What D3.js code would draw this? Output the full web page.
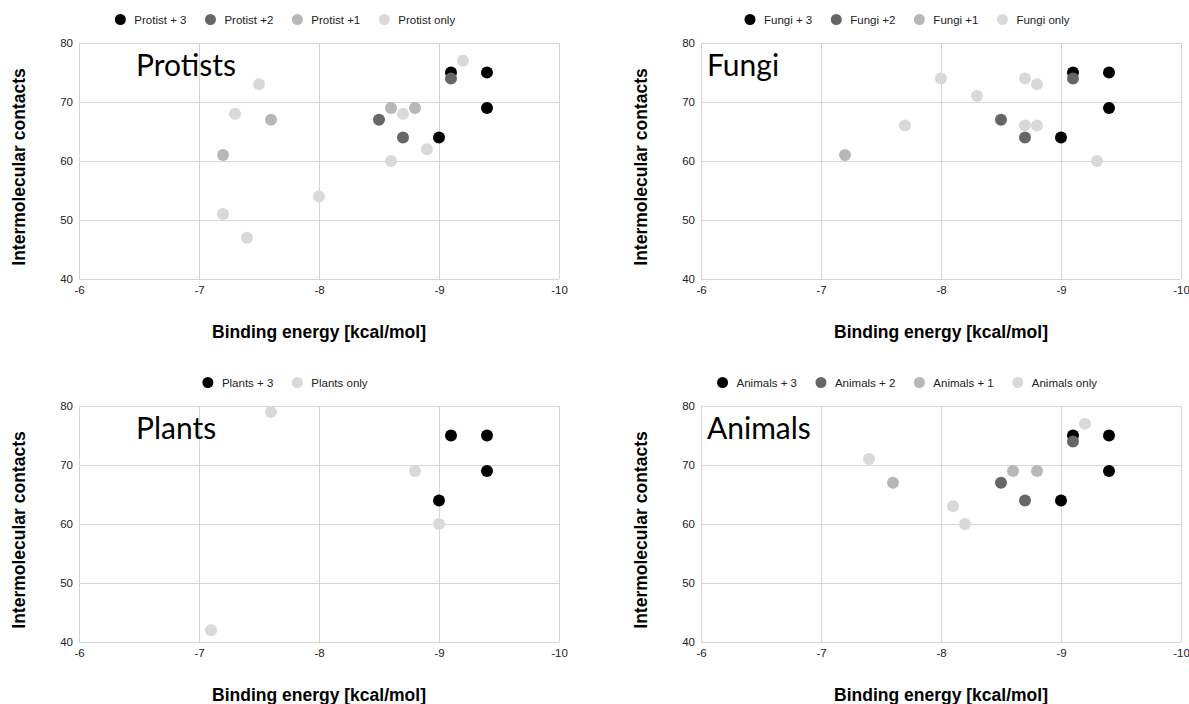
<!DOCTYPE html>
<html>
<head>
<meta charset="utf-8">
<script src="https://cdn.jsdelivr.net/npm/d3@7"></script>
<style>
  body { margin: 0; background: #fff; }
  svg { display: block; }
</style>
</head>
<body>
<script>
// tick values shared by the four panels
var xTicks = [-6, -7, -8, -9, -10];
var yTicks = [40, 50, 60, 70, 80];

// [binding energy, intermolecular contacts]
var protist3 = [[-9.1, 75], [-9.4, 75], [-9.4, 69], [-9.0, 64]];
var protist2 = [[-9.1, 74], [-8.5, 67], [-8.7, 64]];
var protist1 = [[-8.6, 69], [-8.8, 69], [-7.6, 67], [-7.2, 61]];
var protistOnly = [[-9.2, 77], [-7.5, 73], [-7.3, 68], [-8.7, 68], [-8.9, 62], [-8.6, 60], [-8.0, 54], [-7.2, 51], [-7.4, 47]];

var fungi3 = [[-9.1, 75], [-9.4, 75], [-9.4, 69], [-9.0, 64]];
var fungi2 = [[-9.1, 74], [-8.5, 67], [-8.7, 64]];
var fungi1 = [[-7.2, 61]];
var fungiOnly = [[-8.0, 74], [-8.7, 74], [-8.8, 73], [-8.3, 71], [-7.7, 66], [-8.7, 66], [-8.8, 66], [-9.3, 60]];

var plants3 = [[-9.1, 75], [-9.4, 75], [-9.4, 69], [-9.0, 64]];
var plantsOnly = [[-7.6, 79], [-8.8, 69], [-9.0, 60], [-7.1, 42]];

var animals3 = [[-9.1, 75], [-9.4, 75], [-9.4, 69], [-9.0, 64]];
var animals2 = [[-9.1, 74], [-8.5, 67], [-8.7, 64]];
var animals1 = [[-8.6, 69], [-8.8, 69], [-7.6, 67]];
var animalsOnly = [[-9.2, 77], [-7.4, 71], [-8.1, 63], [-8.2, 60]];

var protistLabels = ["Protist + 3", "Protist +2", "Protist +1", "Protist only"];
var fungiLabels = ["Fungi + 3", "Fungi +2", "Fungi +1", "Fungi only"];
var plantsLabels = ["Plants + 3", "Plants only"];
var animalsLabels = ["Animals + 3", "Animals + 2", "Animals + 1", "Animals only"];

var grays = { three: "#000000", two: "#666666", one: "#b7b7b7", only: "#d9d9d9" };

var panels = [
    { title: "Protists", labels: protistLabels, series: [protist3, protist2, protist1, protistOnly],
      colors: [grays.three, grays.two, grays.one, grays.only], left: 79, top: 43, titleDx: 57 },
    { title: "Fungi", labels: fungiLabels, series: [fungi3, fungi2, fungi1, fungiOnly],
      colors: [grays.three, grays.two, grays.one, grays.only], left: 701, top: 43, titleDx: 6 },
    { title: "Plants", labels: plantsLabels, series: [plants3, plantsOnly],
      colors: [grays.three, grays.only], left: 79, top: 406, titleDx: 57 },
    { title: "Animals", labels: animalsLabels, series: [animals3, animals2, animals1, animalsOnly],
      colors: [grays.three, grays.two, grays.one, grays.only], left: 701, top: 406, titleDx: 6 }
];

var width = 480;
var height = 236;
var font = "'Liberation Sans', Arial, sans-serif";

var svg = d3.select("body")
    .append("svg")
    .attr("width", 1189)
    .attr("height", 704);

panels.forEach(function(p) {
    var g = svg.append("g")
        .attr("transform", "translate(" + p.left + "," + p.top + ")");

    var xScale = d3.scaleLinear().domain([-6, -10]).range([0, width]);
    var yScale = d3.scaleLinear().domain([40, 80]).range([height, 0]);

    // grade
    g.append("g")
        .attr("transform", "translate(0," + height + ")")
        .call(d3.axisBottom(xScale).tickValues(xTicks).tickSize(-height).tickFormat(""))
        .call(a => a.select(".domain").remove())
        .selectAll("line").attr("stroke", "#d6d6d6");

    g.append("g")
        .call(d3.axisLeft(yScale).tickValues(yTicks).tickSize(-width).tickFormat(""))
        .call(a => a.select(".domain").remove())
        .selectAll("line").attr("stroke", "#d6d6d6");

    // rótulos dos eixos (hífen simples, como no original)
    g.append("g")
        .attr("transform", "translate(0," + height + ")")
        .call(d3.axisBottom(xScale).tickValues(xTicks).tickSize(0).tickPadding(7).tickFormat(d => String(d)))
        .call(a => a.select(".domain").remove())
        .selectAll("text")
        .style("font-family", font).style("font-size", "11.5px").attr("fill", "#222");

    g.append("g")
        .call(d3.axisLeft(yScale).tickValues(yTicks).tickSize(0).tickPadding(6))
        .call(a => a.select(".domain").remove())
        .selectAll("text")
        .style("font-family", font).style("font-size", "11.5px").attr("fill", "#222");

    // pontos
    p.series.forEach(function(s, i) {
        g.append("g")
            .selectAll("circle")
            .data(s)
            .enter()
            .append("circle")
            .attr("cx", d => xScale(d[0]))
            .attr("cy", d => yScale(d[1]))
            .attr("r", 6)
            .attr("fill", p.colors[i]);
    });

    // título do painel
    g.append("text")
        .text(p.title)
        .attr("x", p.titleDx)
        .attr("y", 32.5)
        .style("font-family", "Lato, sans-serif")
        .style("font-size", "30px")
        .attr("fill", "#000");

    // título eixo y
    g.append("text")
        .text("Intermolecular contacts")
        .attr("transform", "rotate(-90)")
        .attr("x", -height / 2 - 6)
        .attr("y", -54)
        .attr("text-anchor", "middle")
        .style("font-family", font)
        .style("font-weight", "bold")
        .style("font-size", "17.5px");

    // título eixo x
    g.append("text")
        .text("Binding energy [kcal/mol]")
        .attr("x", width / 2)
        .attr("y", height + 59)
        .attr("text-anchor", "middle")
        .style("font-family", font)
        .style("font-weight", "bold")
        .style("font-size", "17.5px");

    // legenda
    var legend = g.append("g");
    var cursor = 0;
    p.labels.forEach(function(label, i) {
        legend.append("circle")
            .attr("cx", cursor)
            .attr("cy", 0)
            .attr("r", 5.5)
            .attr("fill", p.colors[i]);
        var t = legend.append("text")
            .text(label)
            .attr("x", cursor + 14)
            .attr("y", 4)
            .style("font-family", font)
            .style("font-size", "11.5px")
            .attr("fill", "#222");
        cursor += 14 + t.node().getComputedTextLength() + 24;
    });
    var legendWidth = cursor - 24 + 5.5;
    legend.attr("transform", "translate(" + (206 - legendWidth / 2 + 5.5) + "," + (-23.5) + ")");
});
</script>
</body>
</html>
